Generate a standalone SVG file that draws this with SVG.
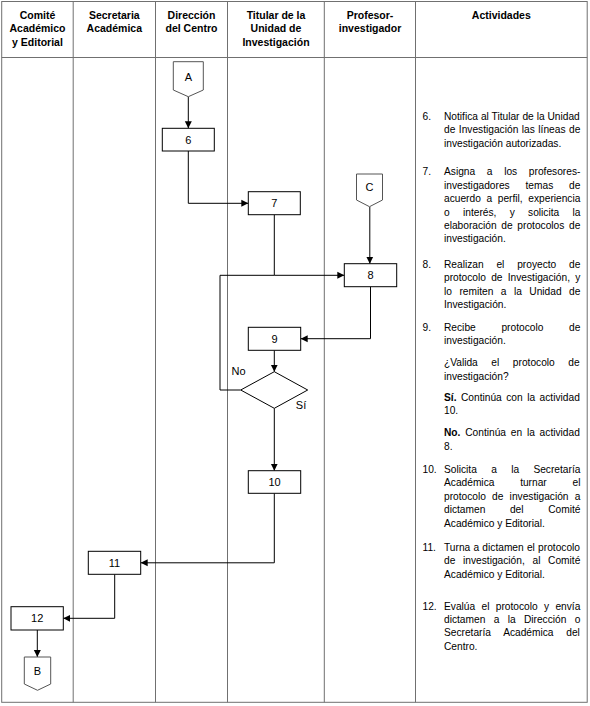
<svg xmlns="http://www.w3.org/2000/svg" width="590" height="706" viewBox="0 0 590 706">
<style>
text{font-family:"Liberation Sans",Arial,sans-serif;fill:#000}
.h{font-size:10.5px;font-weight:bold;text-anchor:middle}
.t{font-size:10.2px}
.b{font-weight:bold}
.n{font-size:11px;text-anchor:middle}
.grid{stroke:#707070;stroke-width:1;fill:none}
.box{fill:#fff;stroke:#000;stroke-width:1}
.off{fill:#fff;stroke:#555;stroke-width:1}
.c{fill:none;stroke:#000;stroke-width:1}
</style>
<defs>
<marker id="ar" markerWidth="8" markerHeight="8" refX="7" refY="4" orient="auto" markerUnits="userSpaceOnUse">
<path d="M0,0.5 L7,4 L0,7.5 Z" fill="#000"/>
</marker>
</defs>
<rect width="590" height="706" fill="#fff"/>
<g id="table">
<rect class="grid" x="1.7" y="1.5" width="585.5" height="700.8"/>
<line class="grid" x1="1.7" y1="57.5" x2="587.2" y2="57.5"/>
<line class="grid" x1="73.2" y1="1.5" x2="73.2" y2="702.3"/>
<line class="grid" x1="155.5" y1="1.5" x2="155.5" y2="702.3"/>
<line class="grid" x1="227.5" y1="1.5" x2="227.5" y2="702.3"/>
<line class="grid" x1="324.3" y1="1.5" x2="324.3" y2="702.3"/>
<line class="grid" x1="415.5" y1="1.5" x2="415.5" y2="702.3"/>
<text class="h" x="37.5" y="19">Comité</text>
<text class="h" x="37.5" y="32.4">Académico</text>
<text class="h" x="37.5" y="45.7">y Editorial</text>
<text class="h" x="114.3" y="19">Secretaria</text>
<text class="h" x="114.3" y="32.4">Académica</text>
<text class="h" x="191.5" y="19">Dirección</text>
<text class="h" x="191.5" y="32.4">del Centro</text>
<text class="h" x="276" y="19">Titular de la</text>
<text class="h" x="276" y="32.4">Unidad de</text>
<text class="h" x="276" y="45.7">Investigación</text>
<text class="h" x="370" y="19">Profesor-</text>
<text class="h" x="370" y="32.4">investigador</text>
<text class="h" x="501.3" y="19">Actividades</text>
</g>
<g id="connectors">
<path class="c" d="M188.3,96.7 V128.3" marker-end="url(#ar)"/>
<path class="c" d="M188.3,151 V203.3 H248.3" marker-end="url(#ar)"/>
<path class="c" d="M369.8,206.7 V263.7" marker-end="url(#ar)"/>
<path class="c" d="M274.3,214.7 V275.3 H344.3" marker-end="url(#ar)"/>
<path class="c" d="M240.5,390 H220 V275.3 H274.3"/>
<path class="c" d="M370.5,286.7 V338.7 H300.7" marker-end="url(#ar)"/>
<path class="c" d="M274.3,350.3 V371.7" marker-end="url(#ar)"/>
<path class="c" d="M274.3,408.3 V470.7" marker-end="url(#ar)"/>
<path class="c" d="M274.3,493.3 V562.8 H140.7" marker-end="url(#ar)"/>
<path class="c" d="M114.7,574.3 V618.3 H63.3" marker-end="url(#ar)"/>
<path class="c" d="M37.3,630 V657" marker-end="url(#ar)"/>
<text class="n" x="238.5" y="375">No</text>
<text class="n" x="301" y="409">Sí</text>
</g>
<g id="A"><path class="off" d="M173.3,61.7 H203.3 V90 L188.3,96.7 L173.3,90 Z"/><text class="n" x="188.3" y="80.5">A</text></g>
<g id="C"><path class="off" d="M356.5,174 H382.5 V200 L369.5,206.7 L356.5,200 Z"/><text class="n" x="369.5" y="190.5">C</text></g>
<g id="B"><path class="off" d="M24.3,657 H50.7 V684 L37.5,690.3 L24.3,684 Z"/><text class="n" x="37.5" y="675">B</text></g>
<g id="n6"><rect class="box" x="162.3" y="128.3" width="52" height="22.7"/><text class="n" x="188.3" y="143.5">6</text></g>
<g id="n7"><rect class="box" x="248.3" y="191.7" width="52" height="23"/><text class="n" x="274.3" y="207">7</text></g>
<g id="n8"><rect class="box" x="344.3" y="263.7" width="52.4" height="23"/><text class="n" x="370.5" y="279">8</text></g>
<g id="n9"><rect class="box" x="248.3" y="327.3" width="52.4" height="23"/><text class="n" x="274.5" y="342.6">9</text></g>
<g id="d9"><path class="box" d="M274.3,371.7 L307.7,390 L274.3,408.3 L240.7,390 Z"/></g>
<g id="n10"><rect class="box" x="248.3" y="470.7" width="52.4" height="22.6"/><text class="n" x="274.5" y="485.8">10</text></g>
<g id="n11"><rect class="box" x="88.3" y="551.3" width="52.4" height="23"/><text class="n" x="114.5" y="566.6">11</text></g>
<g id="n12"><rect class="box" x="11" y="606.7" width="52.3" height="23.3"/><text class="n" x="37.2" y="622.2">12</text></g>
<g id="activities" class="t">
<text class="t" x="422.5" y="119.7">6.</text>
<text class="t" x="444" y="119.7" word-spacing="0.09">Notifica al Titular de la Unidad</text>
<text class="t" x="444" y="133.1" word-spacing="0.67">de Investigación las líneas de</text>
<text class="t" x="444" y="146.5">investigación autorizadas.</text>
<text class="t" x="422.5" y="175.4">7.</text>
<text class="t" x="444" y="175.4" word-spacing="8.84">Asigna a los profesores-</text>
<text class="t" x="444" y="188.8" word-spacing="12.97">investigadores temas de</text>
<text class="t" x="444" y="202.2" word-spacing="2.8">acuerdo a perfil, experiencia</text>
<text class="t" x="444" y="215.6" word-spacing="10.46">o interés, y solicita la</text>
<text class="t" x="444" y="229" word-spacing="1.84">elaboración de protocolos de</text>
<text class="t" x="444" y="242.4">investigación.</text>
<text class="t" x="422.5" y="267.7">8.</text>
<text class="t" x="444" y="267.7" word-spacing="9.97">Realizan el proyecto de</text>
<text class="t" x="444" y="281.1" word-spacing="2.41">protocolo de Investigación, y</text>
<text class="t" x="444" y="294.5" word-spacing="4.62">lo remiten a la Unidad de</text>
<text class="t" x="444" y="307.9">Investigación.</text>
<text class="t" x="422.5" y="331">9.</text>
<text class="t" x="444" y="331" word-spacing="22.9">Recibe protocolo de</text>
<text class="t" x="444" y="344.4">investigación.</text>
<text class="t" x="444" y="366.3" word-spacing="10.73">¿Valida el protocolo de</text>
<text class="t" x="444" y="379.7">investigación?</text>
<text class="t" x="444" y="400.5" word-spacing="1.67"><tspan class="b">Sí.</tspan> Continúa con la actividad</text>
<text class="t" x="444" y="413.9">10.</text>
<text class="t" x="444" y="436.4" word-spacing="1.96"><tspan class="b">No.</tspan> Continúa en la actividad</text>
<text class="t" x="444" y="449.8">8.</text>
<text class="t" x="422.5" y="473">10.</text>
<text class="t" x="444" y="473" word-spacing="11.49">Solicita a la Secretaría</text>
<text class="t" x="444" y="486.4" word-spacing="22.9">Académica turnar el</text>
<text class="t" x="444" y="499.8" word-spacing="3.36">protocolo de investigación a</text>
<text class="t" x="444" y="513.2" word-spacing="21.77">dictamen del Comité</text>
<text class="t" x="444" y="526.6">Académico y Editorial.</text>
<text class="t" x="422.5" y="551">11.</text>
<text class="t" x="444" y="551" word-spacing="0.4">Turna a dictamen el protocolo</text>
<text class="t" x="444" y="564.4" word-spacing="4.87">de investigación, al Comité</text>
<text class="t" x="444" y="577.8">Académico y Editorial.</text>
<text class="t" x="422.5" y="609.5">12.</text>
<text class="t" x="444" y="609.5" word-spacing="3.51">Evalúa el protocolo y envía</text>
<text class="t" x="444" y="622.9" word-spacing="5.5">dictamen a la Dirección o</text>
<text class="t" x="444" y="636.3" word-spacing="9.86">Secretaría Académica del</text>
<text class="t" x="444" y="649.7">Centro.</text>
</g>
</svg>
